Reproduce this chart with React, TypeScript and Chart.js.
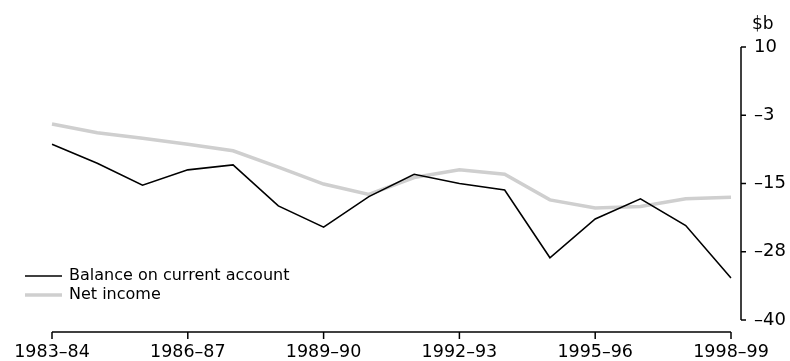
import React, { useEffect, useRef } from "react";
import { Chart, registerables } from "chart.js";

Chart.register(...registerables);

const categories = [
  "1983–84", "1984–85", "1985–86", "1986–87", "1987–88", "1988–89", "1989–90", "1990–91",
  "1991–92", "1992–93", "1993–94", "1994–95", "1995–96", "1996–97", "1997–98", "1998–99",
];
const balanceOnCurrentAccount = [
  -7.8, -11.3, -15.3, -12.5, -11.6, -19.1, -23.0, -17.4,
  -13.3, -15.0, -16.2, -28.6, -21.5, -17.8, -22.7, -32.3,
];
const netIncome = [
  -4.1, -5.7, -6.7, -7.8, -9.0, -12.0, -15.1, -17.0,
  -13.9, -12.5, -13.3, -18.0, -19.5, -19.2, -17.8, -17.5,
];
const yTickValues = [10, -2.5, -15, -27.5, -40];
const yTickLabels = ["10", "–3", "–15", "–28", "–40"];
const xTickEvery = 3;
const unitLabel = "$b";
const seriesNames = ["Balance on current account", "Net income"];

const FONT = "'DejaVu Sans', sans-serif";

const axesPlugin = {
  id: "customAxes",
  afterDraw(chart: any) {
    const ctx = chart.ctx;
    const xs = chart.scales.x;
    const ys = chart.scales.y;
    const area = chart.chartArea;
    ctx.save();
    ctx.strokeStyle = "#000";
    ctx.fillStyle = "#000";
    ctx.lineWidth = 1.5;

    // X axis
    const xAxisY = area.bottom + 12;
    const x0 = xs.getPixelForValue(0);
    const x1 = xs.getPixelForValue(categories.length - 1);
    ctx.beginPath();
    ctx.moveTo(x0, xAxisY);
    ctx.lineTo(x1, xAxisY);
    ctx.stroke();
    ctx.font = `17.5px ${FONT}`;
    ctx.textAlign = "center";
    ctx.textBaseline = "middle";
    categories.forEach((c, i) => {
      if (i % xTickEvery !== 0) return;
      const px = xs.getPixelForValue(i);
      ctx.beginPath();
      ctx.moveTo(px, xAxisY);
      ctx.lineTo(px, xAxisY + 7);
      ctx.stroke();
      ctx.fillText(c, px, xAxisY + 20);
    });

    // Y axis
    const yAxisX = area.right + 10;
    ctx.beginPath();
    ctx.moveTo(yAxisX, ys.getPixelForValue(yTickValues[0]));
    ctx.lineTo(yAxisX, ys.getPixelForValue(yTickValues[yTickValues.length - 1]));
    ctx.stroke();
    ctx.textAlign = "left";
    ctx.font = `18px ${FONT}`;
    yTickValues.forEach((v, i) => {
      const py = ys.getPixelForValue(v);
      ctx.beginPath();
      ctx.moveTo(yAxisX, py);
      ctx.lineTo(yAxisX + 5, py);
      ctx.stroke();
      ctx.fillText(yTickLabels[i], yAxisX + 13, py);
    });
    ctx.font = `17px ${FONT}`;
    ctx.fillText(unitLabel, yAxisX + 11, 25);

    // Legend
    ctx.font = `16px ${FONT}`;
    const legendY = [276, 295];
    chart.data.datasets.forEach((ds: any, i: number) => {
      ctx.strokeStyle = ds.borderColor;
      ctx.lineWidth = ds.borderWidth;
      ctx.beginPath();
      ctx.moveTo(25, legendY[i]);
      ctx.lineTo(62, legendY[i]);
      ctx.stroke();
      ctx.fillStyle = "#000";
      ctx.fillText(ds.label, 69, legendY[i]);
    });
    ctx.restore();
  },
};

export default function App() {
  const ref = useRef<HTMLCanvasElement>(null);
  useEffect(() => {
    if (!ref.current) return;
    const chart = new Chart(ref.current, {
      type: "line",
      data: {
        labels: categories,
        datasets: [
          {
            label: seriesNames[0],
            data: balanceOnCurrentAccount,
            borderColor: "#000000",
            borderWidth: 1.6,
            pointRadius: 0,
            tension: 0,
          },
          {
            label: seriesNames[1],
            data: netIncome,
            borderColor: "#cfcfcf",
            borderWidth: 3.5,
            pointRadius: 0,
            tension: 0,
          },
        ],
      },
      options: {
        responsive: false,
        animation: false,
        layout: { padding: { left: 52, right: 59, top: 47, bottom: 41 } },
        plugins: { legend: { display: false }, tooltip: { enabled: false } },
        scales: {
          x: { display: false, offset: false },
          y: { display: false, min: -40, max: 10 },
        },
      },
      plugins: [axesPlugin],
    });
    return () => chart.destroy();
  }, []);
  return (
    <div style={{ position: "absolute", left: 0, top: 0, width: 790, height: 361 }}>
      <canvas ref={ref} width={790} height={361} />
    </div>
  );
}
